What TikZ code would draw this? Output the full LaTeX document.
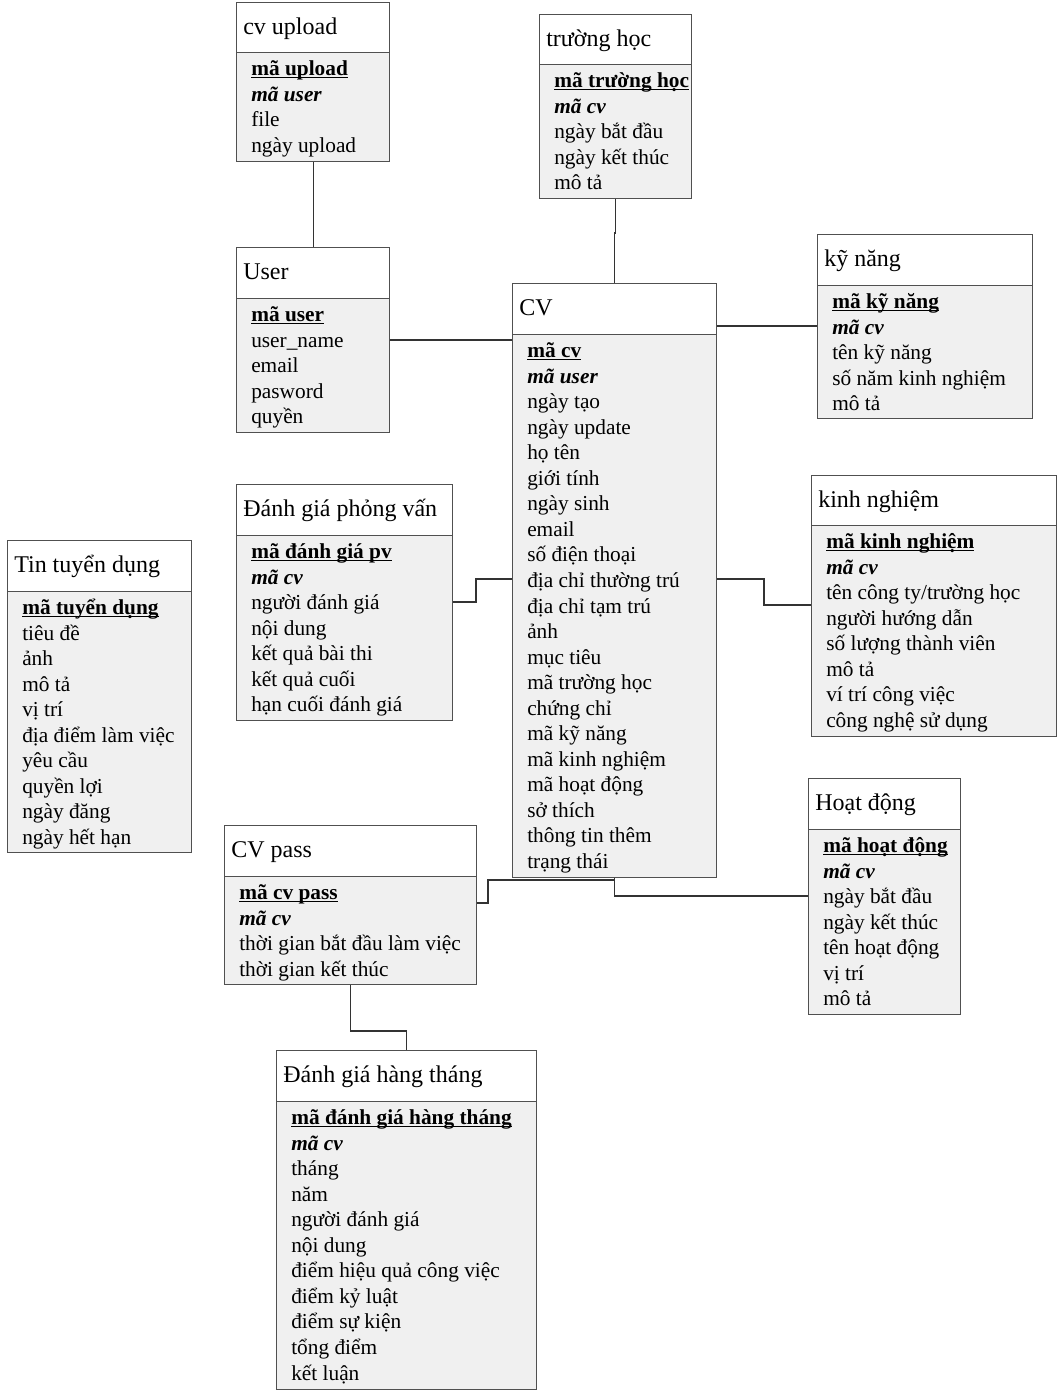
\documentclass[tikz,border=0pt]{standalone}
\usepackage{fontspec}
\setmainfont{Liberation Serif}
\definecolor{bodycol}{RGB}{240,240,240}
\definecolor{edgecol}{RGB}{80,80,80}
\newcommand\pk[1]{\setbox0\hbox{\bfseries #1}\rlap{\rule[-2pt]{\wd0}{0.9pt}}\box0}
\newcommand\fk[1]{{\bfseries\itshape #1}}
\tikzset{
  ebody/.style={anchor=north west, draw=edgecol, fill=bodycol, line width=1.1pt, inner sep=0pt},
  ehead/.style={anchor=north west, draw=edgecol, fill=white, line width=1.1pt, inner sep=0pt},
  etitle/.style={anchor=base west, inner sep=0pt, font=\fontsize{18}{21}\selectfont},
  erow/.style={anchor=base west, inner sep=0pt, font=\fontsize{16}{19}\selectfont},
  conn/.style={draw=black!80, line width=1pt}
}
% #1 name #2 left #3 top #4 right #5 header bottom #6 bottom #7 title #8 rows
\newcommand\entity[8]{%
  \node[ebody, minimum width={(#4-#2)*0.75pt}, minimum height={(#6-#3)*0.75pt}] (#1) at (#2,#3) {};
  \node[ehead, minimum width={(#4-#2)*0.75pt}, minimum height={(#5-#3)*0.75pt}] (#1-h) at (#2,#3) {};
  \node[etitle] (#1-t) at ({#2+7},{(#3+#5)/2+7}) {#7};
  \foreach \r [count=\i] in {#8} {
    \node[erow] (#1-r\i) at ({#2+15},{#5+23.5+25.55*(\i-1)}) {\r};
  }
}
\begin{document}
\begin{tikzpicture}[x=0.75pt,y=-0.75pt]
\useasboundingbox (0,0) rectangle (1057,1396);
\fill[white] (0,0) rectangle (1057,1396);

\entity{cvup}{236}{2}{389}{52}{161}{cv upload}{\pk{mã upload},\fk{mã user},file,ngày upload}
\entity{truong}{539}{14}{691}{64}{198}{trường học}{\pk{mã trường học},\fk{mã cv},ngày bắt đầu,ngày kết thúc,mô tả}
\entity{user}{236}{247}{389}{298}{432}{User}{\pk{mã user},user\_name,email,pasword,quyền}
\entity{cv}{512}{283}{716}{334}{877}{CV}{\pk{mã cv},\fk{mã user},ngày tạo,ngày update,họ tên,giới tính,ngày sinh,email,số điện thoại,địa chỉ thường trú,địa chỉ tạm trú,ảnh,mục tiêu,mã trường học,chứng chỉ,mã kỹ năng,mã kinh nghiệm,mã hoạt động,sở thích,thông tin thêm,trạng thái}
\entity{kynang}{817}{234}{1032}{285}{418}{kỹ năng}{\pk{mã kỹ năng},\fk{mã cv},tên kỹ năng,số năm kinh nghiệm,mô tả}
\entity{dgpv}{236}{484}{452}{535}{720}{Đánh giá phỏng vấn}{\pk{mã đánh giá pv},\fk{mã cv},người đánh giá,nội dung,kết quả bài thi,kết quả cuối,hạn cuối đánh giá}
\entity{tin}{7}{540}{191}{591}{852}{Tin tuyển dụng}{\pk{mã tuyển dụng},tiêu đề,ảnh,mô tả,vị trí,địa điểm làm việc,yêu cầu,quyền lợi,ngày đăng,ngày hết hạn}
\entity{kinh}{811}{475}{1056}{525}{736}{kinh nghiệm}{\pk{mã kinh nghiệm},\fk{mã cv},tên công ty/trường học,người hướng dẫn,số lượng thành viên,mô tả,ví trí công việc,công nghệ sử dụng}
\entity{hoat}{808}{778}{960}{829}{1014}{Hoạt động}{\pk{mã hoạt động},\fk{mã cv},ngày bắt đầu,ngày kết thúc,tên hoạt động,vị trí,mô tả}
\entity{cvpass}{224}{825}{476}{876}{984}{CV pass}{\pk{mã cv pass},\fk{mã cv},thời gian bắt đầu làm việc,thời gian kết thúc}
\entity{dght}{276}{1050}{536}{1101}{1389}{Đánh giá hàng tháng}{\pk{mã đánh giá hàng tháng},\fk{mã cv},tháng,năm,người đánh giá,nội dung,điểm hiệu quả công việc,điểm kỷ luật,điểm sự kiện,tổng điểm,kết luận}

% connectors
\draw[conn] (cvup.south) -- (user.north);
\draw[conn] (truong.south) -- (truong.south |- 0,233) -- (cv.north |- 0,233) -- (cv.north);
\draw[conn] (user.east |- 0,340) -- (cv.west |- 0,340);
\draw[conn] (cv.east |- 0,326) -- (kynang.west |- 0,326);
\draw[conn] (dgpv.east |- 0,602) -- (476,602) -- (476,579) -- (cv.west |- 0,579);
\draw[conn] (cv.east |- 0,579) -- (764,579) -- (764,605) -- (kinh.west |- 0,605);
\draw[conn] (cv.south) -- (cv.south |- 0,880) -- (488,880) -- (488,903) -- (cvpass.east |- 0,903);
\draw[conn] (cv.south) -- (cv.south |- 0,896) -- (hoat.west |- 0,896);
\draw[conn] (cvpass.south) -- (cvpass.south |- 0,1031) -- (dght.north |- 0,1031) -- (dght.north);
\end{tikzpicture}
\end{document}
